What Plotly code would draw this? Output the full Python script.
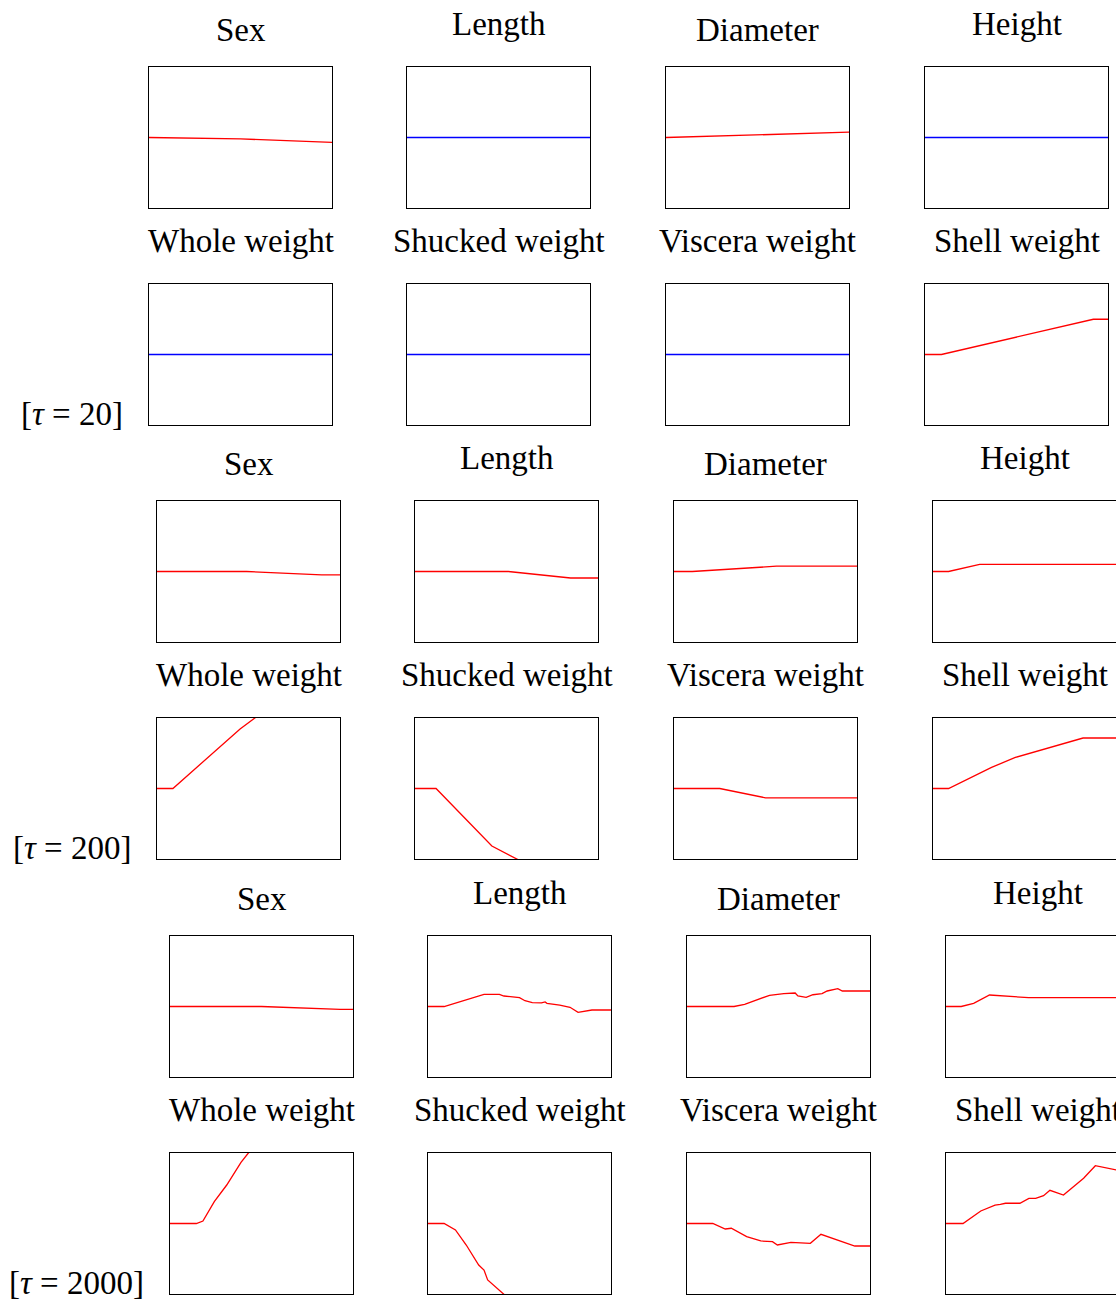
import plotly.graph_objects as go

W, H = 1116, 1301

# ---------------- data ----------------
tau_values = [20, 200, 2000]
top_features = ["Sex", "Length", "Diameter", "Height"]
bottom_features = ["Whole weight", "Shucked weight", "Viscera weight", "Shell weight"]

# tau = 20
t20_sex_x = [0, 0.5, 1.0]
t20_sex_y = [0, -0.02, -0.07]
t20_length_x = [0, 1.0]
t20_length_y = [0, 0]
t20_diameter_x = [0, 1.0]
t20_diameter_y = [0, 0.075]
t20_height_x = [0, 1.0]
t20_height_y = [0, 0]
t20_whole_x = [0, 1.0]
t20_whole_y = [0, 0]
t20_shucked_x = [0, 1.0]
t20_shucked_y = [0, 0]
t20_viscera_x = [0, 1.0]
t20_viscera_y = [0, 0]
t20_shell_x = [0, 0.09, 0.92, 1.0]
t20_shell_y = [0, 0, 0.50, 0.50]
t20_colors = ["#ff0000", "#0000ff", "#ff0000", "#0000ff", "#0000ff", "#0000ff", "#0000ff", "#ff0000"]

# tau = 200
t200_sex_x = [0, 0.49, 0.90, 1.0]
t200_sex_y = [0, 0, -0.047, -0.047]
t200_length_x = [0, 0.51, 0.85, 1.0]
t200_length_y = [0, 0, -0.092, -0.092]
t200_diameter_x = [0, 0.10, 0.56, 1.0]
t200_diameter_y = [0, 0, 0.075, 0.075]
t200_height_x = [0, 0.085, 0.255, 1.0]
t200_height_y = [0, 0, 0.10, 0.10]
t200_whole_x = [0, 0.087, 0.454, 0.535, 1.0]
t200_whole_y = [0, 0, 0.844, 0.996, 1.9]
t200_shucked_x = [0, 0.115, 0.42, 0.55, 1.0]
t200_shucked_y = [0, 0, -0.816, -1.0, -1.6]
t200_viscera_x = [0, 0.25, 0.50, 1.0]
t200_viscera_y = [0, 0, -0.132, -0.132]
t200_shell_x = [0, 0.085, 0.32, 0.45, 0.82, 1.0]
t200_shell_y = [0, 0, 0.30, 0.44, 0.716, 0.716]
t200_colors = ["#ff0000"] * 8

# tau = 2000
t2000_sex_x = [0, 0.5, 0.93, 1.0]
t2000_sex_y = [0, 0, -0.04, -0.04]
t2000_length_x = [0, 0.088, 0.306, 0.39, 0.415, 0.50, 0.53, 0.57, 0.62, 0.64, 0.65, 0.72, 0.776, 0.82, 0.896, 1.0]
t2000_length_y = [0, 0, 0.173, 0.173, 0.149, 0.125, 0.082, 0.054, 0.050, 0.064, 0.045, 0.021, -0.011, -0.082, -0.05, -0.05]
t2000_diameter_x = [0, 0.257, 0.315, 0.383, 0.451, 0.529, 0.591, 0.606, 0.651, 0.688, 0.738, 0.766, 0.824, 0.849, 1.0]
t2000_diameter_y = [0, 0, 0.031, 0.092, 0.159, 0.182, 0.191, 0.149, 0.130, 0.167, 0.182, 0.220, 0.252, 0.220, 0.220]
t2000_height_x = [0, 0.083, 0.151, 0.238, 0.451, 1.0]
t2000_height_y = [0, 0, 0.045, 0.163, 0.125, 0.125]
t2000_whole_x = [0, 0.144, 0.18, 0.242, 0.31, 0.359, 0.388, 0.427, 0.5]
t2000_whole_y = [0, 0, 0.035, 0.309, 0.546, 0.745, 0.868, 0.996, 1.2]
t2000_shucked_x = [0, 0.088, 0.15, 0.209, 0.277, 0.306, 0.326, 0.365, 0.414, 0.5]
t2000_shucked_y = [0, 0, -0.092, -0.305, -0.589, -0.660, -0.801, -0.896, -1.004, -1.2]
t2000_viscera_x = [0, 0.141, 0.209, 0.242, 0.326, 0.403, 0.467, 0.494, 0.568, 0.674, 0.732, 0.917, 1.0]
t2000_viscera_y = [0, 0, -0.078, -0.068, -0.187, -0.248, -0.258, -0.305, -0.267, -0.281, -0.153, -0.319, -0.319]
t2000_shell_x = [0, 0.093, 0.19, 0.248, 0.268, 0.297, 0.325, 0.404, 0.453, 0.49, 0.533, 0.568, 0.642, 0.752, 0.816, 0.932, 1.0]
t2000_shell_y = [0, 0, 0.177, 0.238, 0.262, 0.272, 0.287, 0.287, 0.357, 0.357, 0.394, 0.471, 0.404, 0.641, 0.820, 0.759, 0.745]
t2000_colors = ["#ff0000"] * 8

groups = [
    [(t20_sex_x, t20_sex_y), (t20_length_x, t20_length_y), (t20_diameter_x, t20_diameter_y), (t20_height_x, t20_height_y),
     (t20_whole_x, t20_whole_y), (t20_shucked_x, t20_shucked_y), (t20_viscera_x, t20_viscera_y), (t20_shell_x, t20_shell_y)],
    [(t200_sex_x, t200_sex_y), (t200_length_x, t200_length_y), (t200_diameter_x, t200_diameter_y), (t200_height_x, t200_height_y),
     (t200_whole_x, t200_whole_y), (t200_shucked_x, t200_shucked_y), (t200_viscera_x, t200_viscera_y), (t200_shell_x, t200_shell_y)],
    [(t2000_sex_x, t2000_sex_y), (t2000_length_x, t2000_length_y), (t2000_diameter_x, t2000_diameter_y), (t2000_height_x, t2000_height_y),
     (t2000_whole_x, t2000_whole_y), (t2000_shucked_x, t2000_shucked_y), (t2000_viscera_x, t2000_viscera_y), (t2000_shell_x, t2000_shell_y)],
]
group_colors = [t20_colors, t200_colors, t2000_colors]

# ---------------- layout geometry (pixels) ----------------
group_left = [149, 157, 170]          # left edge of first column of boxes
col_step = 258.5
box_w, box_h = 183, 141
group_row_tops = [(67, 284), (501, 718), (936, 1153)]

FONT = "Liberation Serif"
TITLE_FS = 33
TAU_FS = 33
ASC_SHIFT = 0.3375  # baseline offset from text-box center, in em

def px_x(v):
    return v / W

def px_y(v):
    return 1 - v / H

fig = go.Figure()
layout = dict(
    width=W, height=H, margin=dict(l=0, r=0, t=0, b=0),
    paper_bgcolor="white", plot_bgcolor="white", showlegend=False,
)
annotations = []

n = 0
for g in range(3):
    for r in range(2):
        top = group_row_tops[g][r]
        for c in range(4):
            n += 1
            idx = r * 4 + c
            left = group_left[g] + round(c * col_step)
            right = left + box_w
            clipped = right > W
            dom_x = [px_x(left), min(1.0, px_x(right))]
            xr = [0, (min(right, W) - left) / box_w]
            dom_y = [px_y(top + box_h), px_y(top)]
            xs, ys = groups[g][idx]
            fig.add_trace(go.Scatter(
                x=xs, y=ys, mode="lines",
                line=dict(color=group_colors[g][idx], width=1.3),
                xaxis=f"x{n}", yaxis=f"y{n}", hoverinfo="skip",
            ))
            sfx = "" if n == 1 else str(n)
            layout[f"xaxis{sfx}"] = dict(
                domain=dom_x, range=xr, anchor=f"y{n}",
                showline=True, mirror=True, linecolor="black", linewidth=1,
                showticklabels=False, ticks="", showgrid=False, zeroline=False, fixedrange=True,
            )
            layout[f"yaxis{sfx}"] = dict(
                domain=dom_y, range=[-1, 1], anchor=f"x{n}",
                showline=True, mirror=(not clipped), linecolor="black", linewidth=1,
                showticklabels=False, ticks="", showgrid=False, zeroline=False, fixedrange=True,
            )
            # title
            name = (top_features if r == 0 else bottom_features)[c]
            has_desc = any(ch in name for ch in "gjpqy")
            baseline = top - (32 if has_desc else 26)
            annotations.append(dict(
                text=name, xref="paper", yref="paper",
                x=px_x(left + box_w / 2), y=px_y(baseline - ASC_SHIFT * TITLE_FS),
                xanchor="center", yanchor="middle", showarrow=False,
                font=dict(family=FONT, size=TITLE_FS, color="black"),
            ))
    # tau label: baseline aligned with bottom of second row of boxes
    base = group_row_tops[g][1] + box_h
    annotations.append(dict(
        text=f"[<i>τ</i> = {tau_values[g]}]", xref="paper", yref="paper",
        x=px_x(group_left[g] - 24), y=px_y(base - ASC_SHIFT * TAU_FS),
        xanchor="right", yanchor="middle", showarrow=False,
        font=dict(family=FONT, size=TAU_FS, color="black"),
    ))

layout["annotations"] = annotations
fig.update_layout(**layout)
fig.write_html("out.html")
